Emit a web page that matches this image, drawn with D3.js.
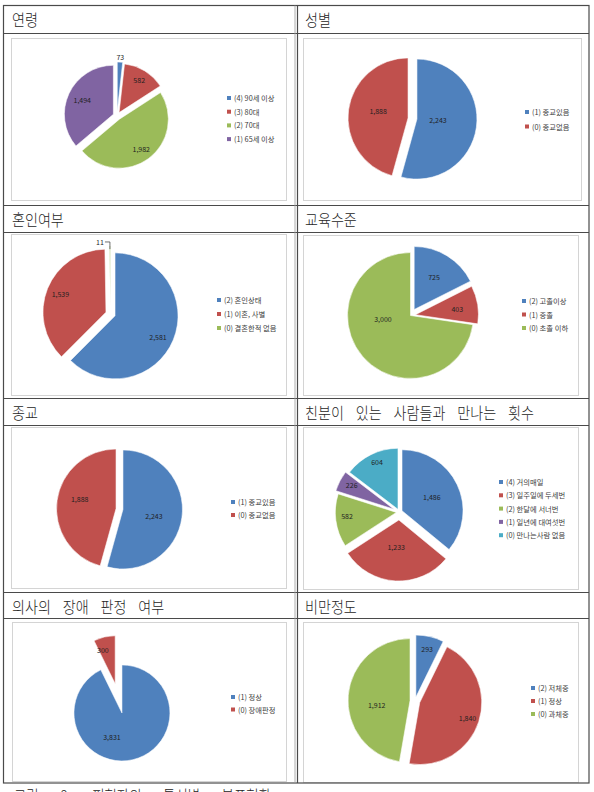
<!DOCTYPE html>
<html><head><meta charset="utf-8">
<script src="https://cdn.jsdelivr.net/npm/d3@7"></script>
<style>body{margin:0;background:#fff}svg{display:block}</style>
</head><body><svg id="c" width="594" height="792"></svg>
<script>
// ---------- DATA ----------
const titles = ["연령","성별","혼인여부","교육수준","종교","친분이 있는 사람들과 만나는 횟수","의사의 장애 판정 여부","비만정도"];
const ageLabels = ["(4) 90세 이상","(3) 80대","(2) 70대","(1) 65세 이상"];
const ageValues = [73,582,1982,1494];
const sexLabels = ["(1) 종교있음","(0) 종교없음"];
const sexValues = [2243,1888];
const maritalLabels = ["(2) 혼인상태","(1) 이혼, 사별","(0) 결혼한적 없음"];
const maritalValues = [2581,1539,11];
const eduLabels = ["(2) 고졸이상","(1) 중졸","(0) 초졸 이하"];
const eduValues = [725,403,3000];
const religionLabels = ["(1) 종교있음","(0) 종교없음"];
const religionValues = [2243,1888];
const meetLabels = ["(4) 거의매일","(3) 일주일에 두세번","(2) 한달에 서너번","(1) 일년에 대여섯번","(0) 만나는사람 없음"];
const meetValues = [1486,1233,582,226,604];
const disabLabels = ["(1) 정상","(0) 장애판정"];
const disabValues = [3831,300];
const obesLabels = ["(2) 저체중","(1) 정상","(0) 과체중"];
const obesValues = [293,1840,1912];
const caption = "그림 8. 피험자의 특성별 분포현황";

// ---------- STYLE / LAYOUT ----------
const pal = ["#4f81bd","#c0504d","#9bbb59","#8064a2","#4bacc6"];
const charts = [
 {t:0, labels:ageLabels, values:ageValues, cx:117, cy:116, r:49, ex:[5,4,4,4],
  lab:[{f:1.1},{f:0.78},{f:0.75},{f:0.7}], leg:{x:229,y:98,dy:13.7}},
 {t:1, labels:sexLabels, values:sexValues, cx:412.5, cy:118.5, r:60, ex:[4.5,4.5],
  lab:[{f:0.35,a:93},{f:0.51,a:282}], leg:{x:527,y:112,dy:14.5}},
 {t:2, labels:maritalLabels, values:maritalValues, cx:110.5, cy:314, r:63, ex:[4.9,4.9,4.9],
  lab:[{f:0.76,a:115.8},{f:0.78},{f:1.07,a:351.6,leader:true}], leg:{x:219,y:300,dy:14}},
 {t:3, labels:eduLabels, values:eduValues, cx:410.5, cy:315.5, r:63, ex:[7,5,0],
  lab:[{f:0.6},{f:0.67,a:82},{f:0.44,a:263}], leg:{x:524,y:301,dy:13.5}},
 {t:4, labels:religionLabels, values:religionValues, cx:119.5, cy:509, r:59.5, ex:[3.5,3.5],
  lab:[{f:0.53,a:101},{f:0.63,a:284}], leg:{x:233,y:502,dy:13}},
 {t:5, labels:meetLabels, values:meetValues, cx:399.3, cy:512, r:61, ex:[3,8,3,6,3],
  lab:[{f:0.54},{f:0.45,a:185},{f:0.81,a:265.6},{f:0.8,a:299.7},{f:0.85,a:336}], leg:{x:501,y:482,dy:13.3}},
 {t:6, labels:disabLabels, values:disabValues, cx:121.5, cy:711, r:48, ex:[2,28],
  lab:[{f:0.54,a:200},{f:0.74,a:343}], leg:{x:233,y:697,dy:12.5}},
 {t:7, labels:obesLabels, values:obesValues, cx:415, cy:701, r:62, ex:[4,5,5],
  lab:[{f:0.8},{f:0.81},{f:0.54,a:264}], leg:{x:533,y:688,dy:13}}
];
const cells = [
 {x:3,  hy:5,   hb:33,  box:[11,38,286,200]},
 {x:296,hy:5,   hb:33,  box:[303,38,581,200]},
 {x:3,  hy:205, hb:232, box:[11,234,286,395]},
 {x:296,hy:205, hb:232, box:[303,235,578,395]},
 {x:3,  hy:398, hb:425, box:[11,427,286,588]},
 {x:296,hy:398, hb:425, box:[303,427,578,589]},
 {x:3,  hy:592, hb:618, box:[12,622,286,781]},
 {x:296,hy:592, hb:618, box:[303,622,578,782]}
];

const svg = d3.select("#c");
const KF = "'Noto Sans CJK KR','Noto Sans',sans-serif";
const fmt = d3.format(",");

// chart boxes
cells.forEach(c=>{
  const b=c.box;
  svg.append("rect").attr("x",b[0]+0.5).attr("y",b[1]+0.5).attr("width",b[2]-b[0]).attr("height",b[3]-b[1])
    .attr("fill","#fff").attr("stroke","#d4d4d4").attr("stroke-width",1);
});

// table lines
const tl = svg.append("g").attr("stroke","#4a4a4a").attr("stroke-width",1.2).attr("fill","none");
tl.append("rect").attr("x",3.5).attr("y",5.5).attr("width",585.5).attr("height",777.5);
[33,205,232,398,425,592,618].forEach(y=>tl.append("line").attr("x1",3.5).attr("x2",589).attr("y1",y+0.5).attr("y2",y+0.5));
tl.append("line").attr("x1",297.5).attr("x2",297.5).attr("y1",5.5).attr("y2",783);
svg.append("line").attr("x1",295).attr("x2",295).attr("y1",5.5).attr("y2",783).attr("stroke","#9a9a9a").attr("stroke-width",0.8);

// titles
cells.forEach((c,i)=>{
  svg.append("text").attr("transform",`translate(${c.x+9},${c.hy+21}) scale(0.88,1)`)
    .attr("font-family",KF).attr("font-size",16).attr("font-weight",300).attr("word-spacing","10px").attr("fill","#262626")
    .text(titles[charts[i].t]);
});

// pies
const rad = d=>d*Math.PI/180;
charts.forEach(ch=>{
  const g = svg.append("g");
  const pie = d3.pie().sort(null).value(d=>d)(ch.values);
  const arc = d3.arc().innerRadius(0).outerRadius(ch.r);
  pie.forEach((p,i)=>{
    const mid=(p.startAngle+p.endAngle)/2, e=ch.ex[i];
    const ox=Math.sin(mid)*e, oy=-Math.cos(mid)*e;
    g.append("path").attr("d",arc(p)).attr("transform",`translate(${ch.cx+ox},${ch.cy+oy})`)
      .attr("fill",pal[i]).attr("stroke","#fff").attr("stroke-width",0.7).attr("stroke-opacity",0.8);
  });
  pie.forEach((p,i)=>{
    const mid=(p.startAngle+p.endAngle)/2, e=ch.ex[i], L=ch.lab[i];
    const a = L.a!==undefined ? rad(L.a) : mid;
    const d = L.f*ch.r + e;
    const x = ch.cx+Math.sin(a)*d, y = ch.cy-Math.cos(a)*d;
    g.append("text").attr("x",x).attr("y",y).attr("text-anchor","middle").attr("dominant-baseline","central")
      .attr("font-family",KF).attr("font-size",7).attr("fill","#1f1f1f").text(fmt(ch.values[i]));
    if(L.leader){
      const px = ch.cx+Math.sin(mid)*(ch.r+e), py = ch.cy-Math.cos(mid)*(ch.r+e);
      g.append("path").attr("d",`M${x+5},${y-0.5}H${px}V${py+3}`).attr("fill","none").attr("stroke","#333").attr("stroke-width",0.7);
    }
  });
  // legend
  const lg = g.append("g");
  ch.labels.forEach((t,i)=>{
    const y = ch.leg.y + i*ch.leg.dy;
    lg.append("rect").attr("x",ch.leg.x-2).attr("y",y-2).attr("width",4).attr("height",4).attr("fill",pal[i]);
    lg.append("text").attr("x",ch.leg.x+5).attr("y",y).attr("dominant-baseline","central")
      .attr("font-family",KF).attr("font-size",7.3).attr("fill","#404040").text(t);
  });
});

// caption (cut off at page bottom, as in the source page)
svg.append("text").attr("transform","translate(14,802) scale(0.84,1)")
  .attr("font-family",KF).attr("font-size",16).attr("font-weight",300).attr("word-spacing","22px").attr("fill","#222").text(caption);
</script></body></html>
